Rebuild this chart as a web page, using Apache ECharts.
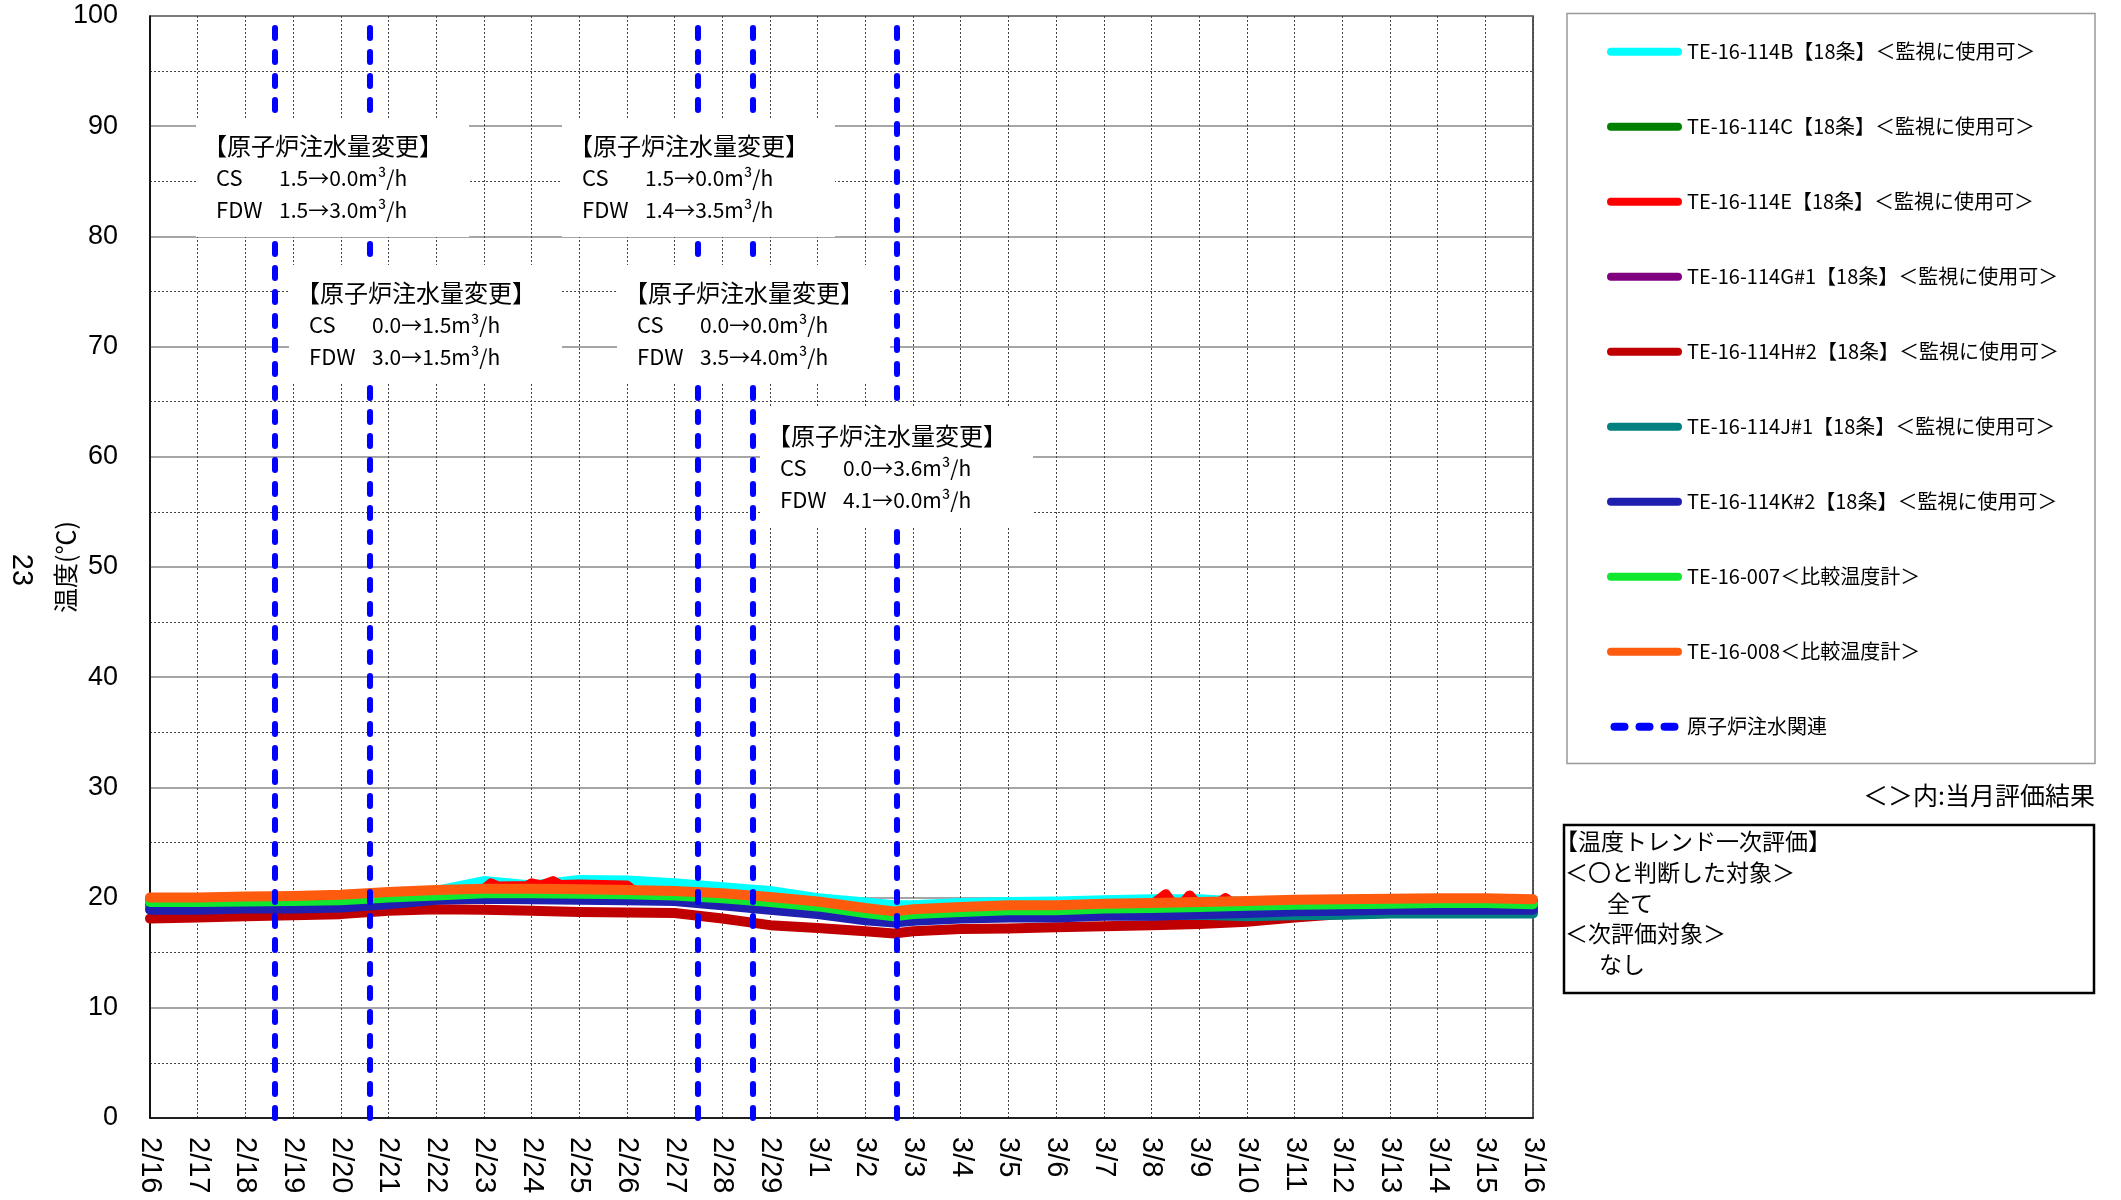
<!DOCTYPE html>
<html><head><meta charset="utf-8">
<script src="https://cdn.jsdelivr.net/npm/echarts@6/dist/echarts.min.js"></script>
<style>html,body{margin:0;padding:0;background:#fff}#c{width:2121px;height:1200px}</style>
</head><body><div id="c"></div>
<script>
// ---- data ----
const tickLabels = ['2/16','2/17','2/18','2/19','2/20','2/21','2/22','2/23','2/24','2/25','2/26','2/27','2/28','2/29','3/1','3/2','3/3','3/4','3/5','3/6','3/7','3/8','3/9','3/10','3/11','3/12','3/13','3/14','3/15','3/16'];
// day offsets from 2/16 00:00
const days = [0,1,2,3,4,5,6,7,8,9,10,11,12,13,14,15,15.6,16,17,18,19,20,21,22,23,24,25,26,27,28,29];
const tempB = [19.8,19.8,19.9,19.9,20.0,20.3,20.6,21.5,21.1,21.6,21.55,21.3,20.95,20.6,19.95,19.55,19.3,19.3,19.5,19.6,19.65,19.75,19.85,19.85,19.6,19.7,19.75,19.8,19.85,19.85,19.75];
const tempC = [19.4,19.4,19.45,19.5,19.6,19.85,20.15,20.25,20.2,20.15,20.1,20.05,19.7,19.3,18.9,18.4,18.15,18.35,18.55,18.65,18.65,18.8,18.85,18.95,19.05,19.15,19.2,19.25,19.3,19.3,19.25];
const redDays = [0,1,2,3,4,5,6,7,7.15,7.3,7.9,8,8.2,8.45,8.6,9,9.5,10,10.15,11,12,13,14,15,15.6,16,17,18,19,20,21,21.3,21.45,21.65,21.8,21.95,22.4,22.55,22.7,23,24,25,26,27,28,29];
const tempE = [19.8,19.8,19.9,19.95,20.05,20.3,20.5,20.75,21.3,21.0,21.05,21.3,21.1,21.5,21.15,21.2,21.15,21.1,20.6,20.45,20.2,19.85,19.45,18.9,18.6,18.8,19.0,19.1,19.1,19.25,19.3,20.3,19.4,19.45,20.2,19.45,19.5,19.95,19.5,19.5,19.6,19.65,19.7,19.75,19.75,19.65];
const tempG = [19.35,19.35,19.4,19.45,19.55,19.8,20.1,20.2,20.15,20.1,20.05,20.0,19.65,19.25,18.85,18.35,18.1,18.3,18.5,18.6,18.6,18.75,18.8,18.9,19.0,19.1,19.15,19.2,19.25,19.25,19.2];
const tempH = [18.1,18.2,18.3,18.4,18.5,18.8,18.95,18.9,18.8,18.7,18.65,18.6,18.1,17.5,17.25,16.95,16.75,16.95,17.15,17.2,17.3,17.4,17.5,17.6,17.8,18.2,18.5,18.6,18.7,18.7,18.7];
const tempJ = [19.2,19.2,19.3,19.3,19.4,19.7,20.1,20.2,20.15,20.1,20.05,20.0,19.6,19.2,18.7,18.15,17.9,18.1,18.3,18.35,18.35,18.45,18.4,18.45,18.3,18.4,18.45,18.55,18.55,18.55,18.55];
const tempK = [18.9,18.9,19.0,19.0,19.1,19.4,19.8,19.9,19.85,19.8,19.75,19.7,19.3,18.9,18.5,17.95,17.75,17.9,18.1,18.2,18.2,18.35,18.35,18.5,18.6,18.75,18.8,18.9,18.9,18.9,18.9];
const temp007 = [19.6,19.6,19.65,19.7,19.75,20.0,20.2,20.4,20.4,20.35,20.3,20.2,19.95,19.6,19.2,18.6,18.3,18.5,18.7,18.85,18.85,19.0,19.05,19.15,19.25,19.35,19.4,19.45,19.5,19.5,19.4];
const temp008 = [20.0,20.0,20.1,20.15,20.25,20.5,20.7,20.8,20.8,20.75,20.7,20.6,20.4,20.05,19.65,19.05,18.75,18.95,19.15,19.3,19.3,19.45,19.5,19.6,19.7,19.8,19.85,19.9,19.95,19.95,19.85];
const injectDays = [2.62, 4.60, 11.49, 12.63, 15.65];
const seriesNames = ['TE-16-114B【18条】＜監視に使用可＞','TE-16-114C【18条】＜監視に使用可＞','TE-16-114E【18条】＜監視に使用可＞','TE-16-114G#1【18条】＜監視に使用可＞','TE-16-114H#2【18条】＜監視に使用可＞','TE-16-114J#1【18条】＜監視に使用可＞','TE-16-114K#2【18条】＜監視に使用可＞','TE-16-007＜比較温度計＞','TE-16-008＜比較温度計＞'];
const injectName = '原子炉注水関連';
const noteTexts = [
  ['1.5→0.0m³/h','1.5→3.0m³/h'],
  ['0.0→1.5m³/h','3.0→1.5m³/h'],
  ['1.5→0.0m³/h','1.4→3.5m³/h'],
  ['0.0→0.0m³/h','3.5→4.0m³/h'],
  ['0.0→3.6m³/h','4.1→0.0m³/h']
];
const evalLines = ['【温度トレンド一次評価】','＜〇と判断した対象＞','全て','＜次評価対象＞','なし'];

// ---- layout / style ----
const colors = ['#00FFFF','#008000','#FF0000','#800080','#C00000','#008080','#1F1FB0','#10E830','#FF5B0F'];
const CJK = '"Noto Sans CJK JP", sans-serif';
const LAT = '"Liberation Sans", Arial, sans-serif';
const xsList = [days, days, redDays, days, days, days, days, days, days];
const ysList = [tempB, tempC, tempE, tempG, tempH, tempJ, tempK, temp007, temp008];

const series = seriesNames.map((name, s) => ({
  name, type: 'line', symbol: 'none', color: colors[s],
  data: xsList[s].map((x, i) => [x, ysList[s][i]]),
  lineStyle: { color: colors[s], width: 10, cap: 'round', join: 'round' },
  emphasis: { disabled: true }, silent: true, animation: false
}));
series.push({
  name: injectName, type: 'line', color: '#0000FF', data: [], symbol: 'none',
  lineStyle: { color: '#0000FF', width: 6, type: [10, 14] },
  markLine: {
    silent: true, symbol: 'none', animation: false, label: { show: false },
    lineStyle: { color: '#0000FF', width: 6, type: [10, 14], cap: 'round' },
    emphasis: { disabled: true },
    data: injectDays.map(d => ({ xAxis: d }))
  }
});

const pill = 'path://M4,0h67a4,4,0,0,1,0,8h-67a4,4,0,0,1,0,-8z';
const dashIcon = 'path://M4,0h10a4,4,0,0,1,0,8h-10a4,4,0,0,1,0,-8zM29,0h10a4,4,0,0,1,0,8h-10a4,4,0,0,1,0,-8zM54,0h10a4,4,0,0,1,0,8h-10a4,4,0,0,1,0,-8z';

// annotation boxes (pixel layout)
const noteBoxes = [[196,118],[289,265],[562,118],[617,265],[760,408]];
const graphics = [];
noteBoxes.forEach(([bx, by], k) => {
  graphics.push({ type: 'rect', z: 100, shape: { x: bx, y: by, width: 273, height: 119 }, style: { fill: '#fff' } });
  graphics.push({ type: 'text', z: 101, x: bx + 7, y: by + 28, style: { text: '【原子炉注水量変更】', font: '24px ' + CJK, fill: '#000', verticalAlign: 'middle' } });
  graphics.push({ type: 'text', z: 101, x: bx + 20, y: by + 60, style: { text: 'CS', font: '22px ' + CJK, fill: '#000', verticalAlign: 'middle' } });
  graphics.push({ type: 'text', z: 101, x: bx + 83, y: by + 60, style: { text: noteTexts[k][0], font: '21px ' + CJK, fill: '#000', verticalAlign: 'middle' } });
  graphics.push({ type: 'text', z: 101, x: bx + 20, y: by + 92, style: { text: 'FDW', font: '22px ' + CJK, fill: '#000', verticalAlign: 'middle' } });
  graphics.push({ type: 'text', z: 101, x: bx + 83, y: by + 92, style: { text: noteTexts[k][1], font: '21px ' + CJK, fill: '#000', verticalAlign: 'middle' } });
});
// legend frame
graphics.push({ type: 'rect', z: 0, shape: { x: 1567, y: 13.5, width: 528, height: 750 }, style: { fill: 'none', stroke: '#999', lineWidth: 1.5 } });
graphics.push({ type: 'text', z: 5, x: 2095, y: 795, style: { text: '＜＞内:当月評価結果', font: '25px ' + CJK, fill: '#000', align: 'right', verticalAlign: 'middle' } });
// evaluation box
graphics.push({ type: 'rect', z: 5, shape: { x: 1564, y: 825, width: 530, height: 168 }, style: { fill: '#fff', stroke: '#000', lineWidth: 2.5 } });
const evalX = [1555, 1565, 1607, 1565, 1599];
const evalY = [841, 872, 903, 933, 964];
evalLines.forEach((t, i) => graphics.push({ type: 'text', z: 6, x: evalX[i], y: evalY[i], style: { text: t, font: '23px ' + CJK, fill: '#000', verticalAlign: 'middle' } }));
// page mark
graphics.push({ type: 'text', z: 5, x: 21, y: 570, rotation: -Math.PI / 2, style: { text: '23', font: '29px ' + LAT, fill: '#000', align: 'center', verticalAlign: 'middle' } });

const chart = echarts.init(document.getElementById('c'), null, { renderer: 'canvas', width: 2121, height: 1200 });
chart.setOption({
  animation: false,
  backgroundColor: '#fff',
  grid: { left: 150, top: 16, right: 588, bottom: 82, show: true, borderColor: '#222', borderWidth: 1.5, containLabel: false, outerBoundsMode: 'none' },
  legend: {
    orient: 'vertical', left: 1607, top: 41.7, padding: 0, itemGap: 55, itemWidth: 75, itemHeight: 8,
    selectedMode: false,
    itemStyle: { borderWidth: 0 },
    textStyle: { fontSize: 20, lineHeight: 20, fontFamily: CJK, color: '#000' },
    data: seriesNames.map(n => ({ name: n, icon: pill })).concat([{ name: injectName, icon: dashIcon }])
  },
  xAxis: {
    type: 'value', min: 0, max: 29, interval: 1,
    axisLine: { show: true, lineStyle: { color: '#000', width: 1.5 } },
    axisTick: { show: false },
    axisLabel: { rotate: -90, margin: 19, fontSize: 29, fontFamily: LAT, color: '#000', formatter: v => tickLabels[Math.round(v)] || '' },
    splitLine: { show: true, lineStyle: { color: '#444', width: 1, type: [2, 2] } }
  },
  yAxis: {
    type: 'value', min: 0, max: 100, interval: 10,
    name: '温度(℃)', nameLocation: 'middle', nameGap: 72, nameMoveOverlap: false,
    nameTextStyle: { fontSize: 25, fontFamily: CJK, color: '#000' },
    axisLine: { show: true, lineStyle: { color: '#000', width: 1.5 } },
    axisTick: { show: false },
    axisLabel: { margin: 32, fontSize: 27, fontFamily: LAT, color: '#000' },
    splitLine: { show: true, lineStyle: { color: '#888', width: 1.5 } },
    minorTick: { show: false, splitNumber: 2 },
    minorSplitLine: { show: true, lineStyle: { color: '#444', width: 1, type: [2, 2] } }
  },
  series,
  graphic: { elements: graphics }
});
</script></body></html>
